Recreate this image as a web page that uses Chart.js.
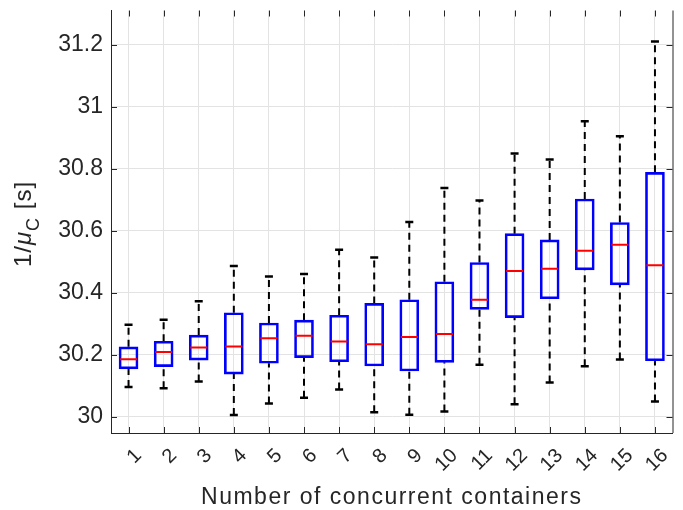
<!DOCTYPE html>
<html>
<head>
<meta charset="utf-8">
<script src="https://cdn.jsdelivr.net/npm/chart.js@4/dist/chart.umd.min.js"></script>
<style>
  html, body { margin: 0; padding: 0; background: #fff; }
  #wrap { width: 683px; height: 510px; }
</style>
</head>
<body>
<div id="wrap"><canvas id="myChart" width="683" height="510"></canvas></div>
<script>
const labels = ['1', '2', '3', '4', '5', '6', '7', '8', '9', '10', '11', '12', '13', '14', '15', '16'];
const lowWhisker = [30.095, 30.091, 30.113, 30.005, 30.042, 30.061, 30.087, 30.014, 30.006, 30.016, 30.167, 30.040, 30.110, 30.162, 30.184, 30.049];
const q1 = [30.154, 30.161, 30.182, 30.137, 30.172, 30.190, 30.177, 30.163, 30.147, 30.175, 30.346, 30.319, 30.380, 30.473, 30.425, 30.180];
const medians = [30.185, 30.208, 30.223, 30.226, 30.253, 30.261, 30.242, 30.233, 30.257, 30.266, 30.377, 30.470, 30.477, 30.535, 30.554, 30.488];
const q3 = [30.225, 30.243, 30.263, 30.335, 30.302, 30.311, 30.327, 30.365, 30.377, 30.435, 30.497, 30.590, 30.570, 30.702, 30.626, 30.788];
const highWhisker = [30.296, 30.312, 30.372, 30.486, 30.452, 30.460, 30.538, 30.513, 30.628, 30.737, 30.697, 30.849, 30.829, 30.953, 30.904, 31.210];
const yTicks = [30, 30.2, 30.4, 30.6, 30.8, 31, 31.2];

const FONT = "'Liberation Sans', Arial, sans-serif";
const AXIS = '#262626';
const GRID = '#e3e3e3';

// dashed whisker segments: q3 -> max, min -> q1, split by nulls
const whiskerData = labels.flatMap((l, i) => [
  { x: l, y: q3[i] }, { x: l, y: highWhisker[i] }, { x: l, y: null },
  { x: l, y: lowWhisker[i] }, { x: l, y: q1[i] }, { x: l, y: null }
]);
const capData = labels.flatMap((l, i) => [
  { x: l, y: highWhisker[i] }, { x: l, y: lowWhisker[i] }
]);

// inward ticks, right border, axis titles
const frame = {
  id: 'frame',
  afterDraw(chart) {
    const { ctx, chartArea: a, scales: { x, y } } = chart;
    ctx.save();
    ctx.strokeStyle = AXIS;
    ctx.lineWidth = 1;
    ctx.beginPath();
    ctx.moveTo(a.right + 0.5, a.top);
    ctx.lineTo(a.right + 0.5, a.bottom);
    yTicks.forEach(v => {
      const py = Math.round(y.getPixelForValue(v)) + 0.5;
      ctx.moveTo(a.left, py); ctx.lineTo(a.left + 6, py);
      ctx.moveTo(a.right, py); ctx.lineTo(a.right - 6, py);
    });
    labels.forEach((l, i) => {
      const px = Math.round(x.getPixelForValue(i)) + 0.5;
      ctx.moveTo(px, a.bottom); ctx.lineTo(px, a.bottom - 6);
      ctx.moveTo(px, a.top); ctx.lineTo(px, a.top + 6);
    });
    ctx.stroke();

    ctx.fillStyle = AXIS;
    ctx.letterSpacing = '1.5px';
    ctx.font = '23px ' + FONT;
    ctx.textAlign = 'center';
    ctx.textBaseline = 'alphabetic';
    ctx.fillText('Number of concurrent containers', (a.left + a.right) / 2, 504);

    // y title with subscript: 1/μ_C [s]
    ctx.letterSpacing = '1px';
    const big = '24px ' + FONT, ital = 'italic 24px ' + FONT, small = '18px ' + FONT;
    const parts = [['1/', big, 0], ['\u03bc', ital, 0], ['C', small, 8], [' [s]', big, 0]];
    let total = 0;
    parts.forEach(p => { ctx.font = p[1]; total += ctx.measureText(p[0]).width; });
    ctx.translate(31, 224);
    ctx.rotate(-Math.PI / 2);
    ctx.textAlign = 'left';
    let cx = -total / 2;
    parts.forEach(p => {
      ctx.font = p[1];
      ctx.fillText(p[0], cx, p[2]);
      cx += ctx.measureText(p[0]).width;
    });
    ctx.restore();
  }
};

const ctx = document.getElementById('myChart').getContext('2d');

const myChart = new Chart(ctx, {
  type: 'bar',
  data: {
    labels: labels,
    datasets: [
      {
        type: 'line',
        data: whiskerData,
        showLine: true,
        spanGaps: false,
        borderColor: '#000',
        borderWidth: 2,
        borderDash: [7, 5],
        pointRadius: 0,
        order: 3
      },
      {
        type: 'bar',
        data: q1.map((v, i) => [v, q3[i]]),
        backgroundColor: 'rgba(0,0,0,0)',
        borderColor: '#0000ff',
        borderWidth: 2,
        borderSkipped: false,
        barThickness: 19,
        order: 2
      },
      {
        type: 'line',
        data: capData,
        showLine: false,
        pointStyle: 'line',
        pointRadius: 4,
        pointBorderColor: '#000',
        pointBorderWidth: 2.5,
        order: 1
      },
      {
        type: 'line',
        data: medians,
        showLine: false,
        pointStyle: 'line',
        pointRadius: 8.5,
        pointBorderColor: '#ff0000',
        pointBorderWidth: 2,
        order: 0
      }
    ]
  },
  options: {
    responsive: false,
    animation: false,
    events: [],
    layout: { padding: { left: 0, right: 9, top: 10, bottom: 0 } },
    plugins: {
      legend: { display: false },
      tooltip: { enabled: false }
    },
    scales: {
      x: {
        offset: true,
        grid: { offset: false, color: GRID, drawTicks: false },
        border: { color: AXIS, width: 1 },
        ticks: {
          color: AXIS,
          font: { family: FONT, size: 20 },
          autoSkip: false,
          minRotation: 45,
          maxRotation: 45,
          padding: 11,
          labelOffset: 10
        },
        afterFit: function(scale) {
          scale.height = 77;
          scale.paddingLeft = 0;
          scale.paddingRight = 0;
        }
      },
      y: {
        min: 29.947,
        max: 31.31,
        grid: { color: GRID, drawTicks: false },
        border: { color: AXIS, width: 1 },
        ticks: {
          color: AXIS,
          font: { family: FONT, size: 23 },
          padding: 8,
          callback: function(value) {
            return String(+value.toFixed(1));
          }
        },
        afterBuildTicks: function(scale) {
          scale.ticks = yTicks.map(v => ({ value: v }));
        },
        afterFit: function(scale) {
          scale.width = 111;
          scale.paddingTop = 0;
          scale.paddingBottom = 0;
        }
      }
    }
  },
  plugins: [frame]
});
</script>
</body>
</html>
